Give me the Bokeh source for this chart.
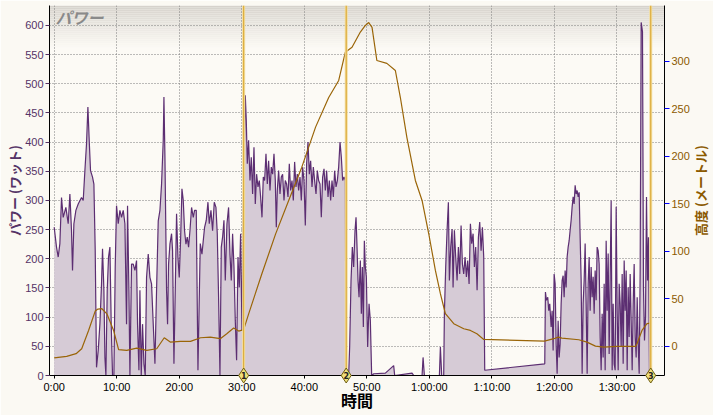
import math
from bokeh.plotting import figure
from bokeh.models import (Range1d, LinearAxis, FixedTicker, Label, ColumnDataSource, Span, BoxAnnotation)
from bokeh.core.properties import value
from bokeh.embed import file_html
from bokeh.resources import INLINE

# ---------------- data (minutes, watts, metres) ----------------
power_t = [0.0, 0.37, 0.64, 0.91, 1.17, 1.44, 1.87, 2.24, 2.51, 2.77, 2.93, 3.15, 3.47, 3.84, 4.37, 4.64,
           4.91, 5.17, 5.39, 5.60, 5.81, 6.13, 6.35, 6.56, 6.77, 7.04, 7.31, 7.57, 7.73, 7.95, 8.11, 8.27,
           8.48, 8.69, 8.91, 9.12, 9.33, 9.55, 9.76, 9.97, 10.24, 10.51, 10.77, 11.04, 11.31, 11.57, 11.73,
           11.95, 12.11, 12.37, 12.64, 12.91, 13.17, 13.33, 13.55, 13.71, 13.92, 14.13, 14.35, 14.56, 14.77,
           15.04, 15.31, 15.57, 15.84, 16.11, 16.37, 16.64, 16.91, 17.17, 17.44, 17.55, 17.71, 17.97, 18.13,
           18.29, 18.51, 18.77, 18.93, 19.15, 19.36, 19.57, 19.79, 20.0, 20.21, 20.43, 20.64, 20.85, 21.07,
           21.28, 21.49, 21.71, 21.97, 22.24, 22.45, 22.72, 22.99, 23.36, 23.63, 24.05, 24.32, 24.59, 24.80,
           25.07, 25.33, 25.60, 25.87, 26.08, 26.29, 26.51, 26.72, 26.93, 27.15, 27.36, 27.63, 27.89, 28.11,
           28.32, 28.53, 28.75, 28.96, 29.17, 29.39, 29.60, 29.81, 30.03, 30.24, 30.56, 30.72, 30.88, 31.09,
           31.31, 31.52, 31.73, 31.95, 32.16, 32.37, 32.59, 32.80, 33.01, 33.23, 33.44, 33.65, 33.87, 34.08,
           34.29, 34.51, 34.72, 34.93, 35.15, 35.36, 35.52, 35.68, 35.89, 36.11, 36.32, 36.53, 36.75, 36.96,
           37.17, 37.39, 37.60, 37.81, 38.03, 38.24, 38.45, 38.67, 38.88, 39.09, 39.31, 39.52, 39.73, 39.95,
           40.16, 40.37, 40.59, 40.80, 41.01, 41.23, 41.44, 41.65, 41.87, 42.08, 42.29, 42.51, 42.72, 42.93,
           43.15, 43.36, 43.57, 43.79, 44.00, 44.21, 44.43, 44.64, 44.85, 45.07, 45.28, 45.49, 45.71, 45.92,
           46.13, 46.35, 46.56, 46.65, 47.09, 47.25, 47.47, 47.68, 47.89, 48.11, 48.27, 48.43, 48.59, 48.75,
           48.96, 49.12, 49.28, 49.44, 49.60, 49.76, 49.92, 50.13, 50.35, 50.56, 50.77, 51.10, 52.96, 54.29,
           54.45, 57.23, 57.49, 58.83, 58.99, 59.20, 61.60, 61.76, 61.97, 62.29, 62.40, 62.61, 62.83, 63.04,
           63.20, 63.41, 63.63, 63.79, 64.00, 64.21, 64.43, 64.64, 64.85, 65.07, 65.28, 65.49, 65.71, 65.92,
           66.13, 66.35, 66.56, 66.77, 66.99, 67.20, 67.41, 67.63, 67.84, 68.05, 68.27, 68.48, 68.69, 68.85,
           78.45, 78.56, 78.72, 78.93, 79.09, 79.25, 79.47, 79.63, 79.79, 79.95, 80.11, 80.27, 80.43, 80.59,
           80.75, 80.91, 81.07, 81.23, 81.39, 81.55, 81.71, 81.87, 82.03, 82.19, 82.35, 82.51, 82.67, 82.83,
           82.99, 83.15, 83.31, 83.47, 83.63, 83.79, 83.95, 84.11, 84.27, 84.43, 84.59, 84.75, 84.91, 85.07,
           85.23, 85.39, 85.55, 85.71, 85.87, 86.03, 86.19, 86.35, 86.51, 86.67, 86.83, 86.99, 87.15, 87.31,
           87.47, 87.63, 87.79, 87.95, 88.11, 88.27, 88.43, 88.59, 88.75, 88.91, 89.07, 89.23, 89.39, 89.55,
           89.71, 89.87, 90.03, 90.19, 90.35, 90.51, 90.67, 90.83, 90.99, 91.15, 91.31, 91.47, 91.63, 91.79,
           91.95, 92.11, 92.27, 92.43, 92.59, 92.75, 92.91, 93.07, 93.23, 93.39, 93.55, 93.71, 93.87, 94.08,
           94.24, 94.40, 94.56, 94.72, 94.88, 95.04, 95.20]
power_w = [254, 220, 203, 226, 305, 271, 288, 260, 311, 248, 180, 260, 283, 294, 305, 300,
           351, 397, 460, 403, 351, 340, 328, 214, 14, 43, 88, 157, 217, 146, 31, 0,
           146, 203, 220, 88, 0, 0, 186, 291, 260, 283, 271, 283, 260, 88, 291,
           146, 0, 191, 191, 180, 197, 88, 9, 146, 0, 88, 20, 0, 168,
           208, 168, 157, 88, 20, 146, 265, 283, 328, 403, 477, 374, 146, 88,
           191, 225, 243, 214, 20, 146, 277, 203, 168, 231, 320, 300, 248, 225,
           237, 220, 248, 288, 271, 283, 283, 9, 226, 208, 254, 266, 297, 260,
           283, 248, 297, 288, 243, 134, 0, 220, 237, 266, 163, 260, 288, 208,
           163, 243, 186, 94, 26, 203, 151, 243, 77, 288, 480, 437, 363, 403,
           334, 374, 311, 391, 294, 345, 323, 334, 306, 271, 340, 334, 380, 328,
           368, 317, 357, 345, 380, 334, 254, 317, 351, 311, 340, 345, 300, 334,
           328, 306, 363, 317, 334, 300, 366, 323, 345, 317, 340, 300, 357, 334,
           257, 363, 400, 345, 368, 323, 357, 334, 311, 351, 334, 328, 271, 340,
           354, 317, 351, 306, 334, 300, 334, 306, 351, 323, 334, 357, 400, 374,
           334, 340, 334, 0, 0, 49, 163, 220, 186, 249, 271, 220, 163, 134,
           197, 106, 186, 83, 231, 186, 169, 49, 123, 94, 0, 3, 4, 17,
           0, 4, 0, 0, 31, 0, 0, 49, 0, 0, 106, 186, 249, 297,
           163, 220, 251, 151, 249, 203, 163, 220, 174, 257, 191, 174, 203, 169,
           197, 157, 260, 226, 243, 186, 220, 146, 237, 263, 214, 254, 203, 9,
           20, 143, 129, 134, 111, 123, 83, 111, 43, 174, 157, 54, 3, 94,
           31, 54, 123, 163, 171, 134, 180, 151, 203, 220, 231, 249, 266, 289,
           306, 294, 326, 311, 317, 306, 314, 237, 163, 3, 123, 163, 226, 123,
           3, 157, 203, 111, 186, 134, 169, 106, 180, 129, 220, 214, 191, 66,
           9, 106, 31, 157, 9, 231, 111, 209, 37, 169, 300, 9, 123, 20,
           9, 289, 111, 9, 157, 123, 49, 174, 20, 197, 111, 180, 9, 151,
           66, 174, 94, 9, 123, 191, 66, 31, 134, 54, 3, 180, 605, 589,
           150, 60, 100, 306, 163, 237, 0]

alt_t = [0.0, 2.0, 3.5, 4.4, 5.5, 6.56, 7.0, 7.63, 8.43, 9.5, 10.3, 11.6, 13.2, 14.8, 16.4, 17.6,
         18.56, 20.2, 21.8, 23.4, 24.96, 26.56, 27.6, 28.7, 29.5, 30.3, 31.1, 33.2, 35.4, 37.5, 39.6,
         41.8, 43.9, 45.5, 46.56, 47.63, 48.96, 49.76, 50.3, 50.83, 51.6, 53.2, 54.56, 55.36, 56.4,
         57.76, 58.83, 59.9, 60.96, 61.76, 62.56, 63.9, 65.5, 66.56, 67.6, 68.7, 78.4, 79.9, 80.6,
         81.2, 83.9, 85.2, 86.56, 87.9, 90.0, 92.96, 93.2, 94.0, 94.8, 95.36]
alt_m = [-12.5, -10.9, -8, -2.8, 16.5, 36.9, 39, 39.4, 34, 16.5, -3.8, -4.5, -2.1, -4.5, -2.8, 8.8,
         4.2, 5, 5, 8.8, 9.5, 7.8, 13, 19, 15.8, 17.3, 34, 76, 118, 153.5, 188.6,
         230.8, 262, 280, 309.8, 315, 331, 338, 341, 336, 301, 298, 290.5, 262, 220,
         174.6, 153.5, 118.4, 79.8, 55.2, 34.1, 23.6, 18.3, 16.5, 13, 7, 5.3, 7.8, 9.5,
         8.4, 6.7, 4.2, 0, -1, -0.3, -0.3, 2.5, 16.5, 23.6, 24.3]

lap_t = [30.3, 46.7, 95.4]
lap_names = ["1", "2", "3"]

x_ticks = [0, 10, 20, 30, 40, 50, 60, 70, 80, 90]
x_tick_labels = ["0:00", "10:00", "20:00", "30:00", "40:00", "50:00",
                 "1:00:00", "1:10:00", "1:20:00", "1:30:00"]
power_ticks = [0, 50, 100, 150, 200, 250, 300, 350, 400, 450, 500, 550, 600]
alt_ticks = [0, 50, 100, 150, 200, 250, 300]

title_header = "パワー"
title_left = "パワー (ワット)"
title_right = "高度 (メートル)"
title_bottom = "時間"

# ---------------- figure ----------------
X0, X1 = -0.75, 97.6
Y0, Y1 = 0, 634
A0, A1 = -31, 359

PURPLE = "#553366"
BROWN = "#8C5A00"
CJK = "Noto Sans CJK JP"

p = figure(width=713, height=415, x_range=Range1d(X0, X1), y_range=Range1d(Y0, Y1),
           output_backend="svg", toolbar_location=None,
           min_border_left=49, min_border_right=49, min_border_top=5, min_border_bottom=40)
p.extra_y_ranges = {"alt": Range1d(A0, A1)}
p.background_fill_color = "#FCFAF5"
p.border_fill_color = "#FBF9F3"
p.outline_line_color = None

# header gradient band
frame_h = 370
upp = (Y1 - Y0) / frame_h
n = 22
c0 = (214, 210, 204)
c1 = (252, 250, 245)
for i in range(n):
    f = (i / (n - 1)) ** 0.9
    col = "#%02x%02x%02x" % tuple(round(a + (b - a) * f) for a, b in zip(c0, c1))
    top = Y1 - i * 2 * upp
    p.add_layout(BoxAnnotation(top=top, bottom=top - 2 * upp, fill_color=col, fill_alpha=1,
                               line_color=None, level="image"))

# axes
left = p.left[0]
left.ticker = FixedTicker(ticks=power_ticks)
left.axis_line_color = "black"
left.major_tick_line_color = PURPLE
left.major_tick_in = 0
left.major_tick_out = 4
left.minor_tick_line_color = None
left.major_label_text_color = PURPLE
left.major_label_text_font = "Liberation Sans"
left.major_label_text_font_size = "11px"
left.major_label_standoff = 2

bottom = p.below[0]
bottom.ticker = FixedTicker(ticks=x_ticks)
bottom.major_label_overrides = dict(zip(x_ticks, x_tick_labels))
bottom.axis_line_color = "black"
bottom.major_tick_line_color = "black"
bottom.major_tick_in = 0
bottom.major_tick_out = 3
bottom.minor_tick_line_color = None
bottom.major_label_text_color = "black"
bottom.major_label_text_font = "Liberation Sans"
bottom.major_label_text_font_size = "11px"
bottom.major_label_standoff = 2

right = LinearAxis(y_range_name="alt", ticker=FixedTicker(ticks=alt_ticks))
right.axis_line_color = "black"
right.major_tick_line_color = "#0000FF"
right.major_tick_in = 0
right.major_tick_out = 5
right.minor_tick_line_color = None
right.major_label_text_color = BROWN
right.major_label_text_font = "Liberation Sans"
right.major_label_text_font_size = "11px"
right.major_label_standoff = 2
p.add_layout(right, "right")

p.xgrid.ticker = FixedTicker(ticks=x_ticks)
for g in (p.xgrid, p.ygrid):
    g.grid_line_color = "#7a7a7a"
    g.grid_line_dash = "1 2"
    g.grid_line_width = 1

# power area + line
p.varea(x=power_t, y1=0, y2=power_w, fill_color="#D6CBD6", fill_alpha=1)
p.line(power_t, power_w, line_color="#5C2E72", line_width=1.2)

# altitude
p.line(alt_t, alt_m, y_range_name="alt", line_color="#9A6508", line_width=1.2)

# lap markers
for t in lap_t:
    p.add_layout(Span(location=t, dimension="height", line_color="#F3DE9E", line_width=3))
    p.add_layout(Span(location=t, dimension="height", line_color="#D9A530", line_width=1))

src = ColumnDataSource(dict(x=lap_t, y=[Y0] * len(lap_t), n=lap_names))
p.scatter(x="x", y="y", source=src, marker="diamond", size=15, fill_color="#F0E07A",
          line_color="#6E5E10", line_width=1, level="overlay")
p.text(x="x", y="y", text="n", source=src, text_align="center", text_baseline="middle",
       text_font=value("DejaVu Sans"), text_font_size="8px", text_font_style="bold",
       text_color="#222222", level="overlay")

# axis titles (overlay text glyphs, not clipped to the frame)
tsrc = ColumnDataSource(dict(
    x=[X0, X1, (X0 + X1) / 2],
    y=[317, 317, Y0],
    t=[title_left, title_right, title_bottom],
    xo=[-35, 36, 0],
    yo=[0, 0, 24],
    a=[math.pi / 2, math.pi / 2, 0],
    c=[PURPLE, BROWN, "black"],
    fs=["13px", "13px", "16px"],
))
p.text(x="x", y="y", text="t", source=tsrc, x_offset="xo", y_offset="yo", angle="a",
       text_align="center", text_baseline="middle", text_font=value(CJK),
       text_font_size="fs", text_font_style="bold", text_color="c", level="overlay")

# header title
p.add_layout(Label(x=X0, y=Y1, x_offset=6, y_offset=1, text=title_header, text_baseline="top",
                   text_font=CJK, text_font_size="16px", text_font_style="bold italic",
                   text_color="#8A8A8A"))

open("out.html", "w").write(file_html(p, INLINE))
